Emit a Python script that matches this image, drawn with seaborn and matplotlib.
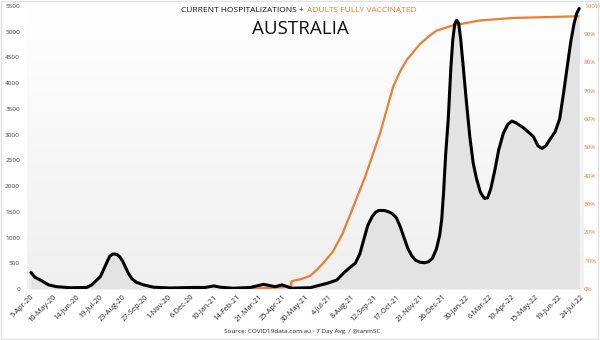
import numpy as np
import pandas as pd
import matplotlib
matplotlib.use("Agg")
import matplotlib.pyplot as plt
import matplotlib.dates as mdates
from matplotlib.patches import Rectangle
from matplotlib.ticker import FuncFormatter
import seaborn as sns

# ---------------- data ----------------
hosp_dates = ["2020-04-06","2020-04-12","2020-04-23","2020-05-03","2020-05-15","2020-06-05","2020-06-30",
              "2020-07-08","2020-07-21","2020-07-26","2020-07-31","2020-08-04","2020-08-08","2020-08-12",
              "2020-08-16","2020-08-20","2020-08-24","2020-08-28","2020-09-02","2020-09-07","2020-09-14",
              "2020-09-25","2020-10-10","2020-11-04","2020-12-10","2020-12-28",
              "2021-01-10","2021-01-20","2021-02-09","2021-03-07","2021-03-27","2021-04-14","2021-04-24",
              "2021-05-09","2021-06-06","2021-07-02","2021-07-17","2021-07-27","2021-08-06","2021-08-14",
              "2021-08-21","2021-08-27","2021-09-02","2021-09-09","2021-09-14","2021-09-19","2021-09-27",
              "2021-10-04","2021-10-10","2021-10-16","2021-10-22","2021-10-28","2021-11-02","2021-11-08",
              "2021-11-14","2021-11-21","2021-11-28","2021-12-04","2021-12-10","2021-12-16","2021-12-21",
              "2021-12-24","2021-12-27","2021-12-30",
              "2022-01-03","2022-01-07","2022-01-10","2022-01-13","2022-01-16","2022-01-19","2022-01-22",
              "2022-01-26","2022-01-31","2022-02-05","2022-02-10","2022-02-15","2022-02-21","2022-02-27",
              "2022-03-04","2022-03-09","2022-03-15","2022-03-21","2022-03-28","2022-04-04","2022-04-10",
              "2022-04-16","2022-04-22","2022-04-28","2022-05-05","2022-05-13","2022-05-20","2022-05-26",
              "2022-06-01","2022-06-07","2022-06-15","2022-06-22","2022-06-28","2022-07-04","2022-07-09",
              "2022-07-14","2022-07-18","2022-07-22"]
hosp_values = [320,230,155,80,45,25,30,
               80,240,380,520,630,675,680,
               665,620,540,430,300,200,130,
               80,35,20,30,30,
               60,35,15,30,90,45,80,
               15,25,110,175,305,420,500,
               680,955,1230,1410,1490,1525,1525,
               1500,1460,1380,1200,980,800,650,
               560,520,510,530,600,780,1050,
               1345,1900,2600,
               3300,4300,4850,5150,5220,5150,4850,
               4300,3600,2950,2450,2150,1880,1760,
               1770,1950,2300,2700,3020,3200,3260,
               3230,3180,3130,3050,2960,2780,2730,
               2780,2900,3050,3300,3800,4350,4800,
               5150,5350,5450]

vax_dates = ["2021-02-22","2021-03-27","2021-04-24","2021-05-08","2021-05-09","2021-05-22","2021-06-06",
             "2021-06-16","2021-06-26","2021-07-11","2021-07-26","2021-08-11","2021-08-29","2021-09-21",
             "2021-10-11","2021-10-22","2021-11-01","2021-11-21","2021-12-06","2021-12-16","2022-01-09",
             "2022-02-20","2022-04-12","2022-07-21"]
vax_pct = [0.0,0.3,0.6,0.9,2.8,3.4,4.6,6.7,9.1,13.2,19.7,29.0,39.5,55.0,71.5,77.0,81.0,86.5,89.5,91.2,93.0,
           94.8,95.7,96.3]

tick_labels = ["5-Apr-20","10-May-20","14-Jun-20","19-Jul-20","23-Aug-20","27-Sep-20","1-Nov-20","6-Dec-20",
               "10-Jan-21","14-Feb-21","21-Mar-21","25-Apr-21","30-May-21","4-Jul-21","8-Aug-21","12-Sep-21",
               "17-Oct-21","21-Nov-21","26-Dec-21","30-Jan-22","6-Mar-22","10-Apr-22","15-May-22","19-Jun-22","24-Jul-22"]
left_ticks = list(range(0, 5501, 500))
right_ticks = list(range(0, 101, 10))

hosp = pd.DataFrame({"date": pd.to_datetime(hosp_dates), "value": hosp_values})
vax = pd.DataFrame({"date": pd.to_datetime(vax_dates), "pct": vax_pct})
tick_dates = pd.to_datetime(tick_labels, format="%d-%b-%y")

ORANGE = "#ED7D31"

sns.set_style("white")
plt.rcParams['font.family'] = ['Open Sans', 'DejaVu Sans']

fig = plt.figure(figsize=(6, 3.4), dpi=100)
ax = fig.add_axes([0.045, 0.150, 0.927, 0.833])
ax2 = ax.twinx()
ax3 = ax.twinx()

xmin, xmax = pd.Timestamp("2020-03-31"), pd.Timestamp("2022-07-28")
for a in (ax, ax2, ax3):
    a.set_xlim(xmin, xmax)
    for s in a.spines.values():
        s.set_visible(False)
ax.set_ylim(0, 5500)
ax3.set_ylim(0, 5500)
ax2.set_ylim(0, 100)

# background gradient
grad = np.linspace(1, 0, 256).reshape(-1, 1)
ax.imshow(grad, extent=[mdates.date2num(xmin), mdates.date2num(xmax), 0, 5500], aspect="auto",
          cmap=matplotlib.colors.LinearSegmentedColormap.from_list("g", ["#efefef", "#ffffff"]),
          vmin=0, vmax=1, zorder=0, origin="upper")
ax.fill_between(hosp["date"], 0, hosp["value"], color="#e3e3e3", lw=0, zorder=1)

sns.lineplot(data=vax, x="date", y="pct", ax=ax2, color=ORANGE, lw=1.6)
sns.lineplot(data=hosp, x="date", y="value", ax=ax3, color="black", lw=2.2)

ax.set_yticks(left_ticks)
ax.tick_params(axis="y", labelsize=4.6, colors="#404040", length=0, pad=5)
ax2.set_yticks(right_ticks)
ax2.yaxis.set_major_formatter(FuncFormatter(lambda v, p: f"{v:.0f}%"))
ax2.tick_params(axis="y", labelsize=4.5, colors=ORANGE, length=0, pad=0.5)
ax3.set_yticks([])
ax3.tick_params(axis="both", length=0)
ax3.set_xticks([])
ax2.set_xticks([])
for a in (ax, ax2, ax3):
    a.set_xlabel("")
    a.set_ylabel("")
for lab in ax2.get_yticklabels() + ax.get_yticklabels():
    lab.set_clip_on(False)

ax.set_xticks(tick_dates)
ax.set_xticklabels(tick_labels, rotation=45, ha="right", rotation_mode="anchor", fontsize=5.3, color="#222222")
ax.tick_params(axis="x", length=0, pad=3)

# titles
W, H = 600, 340
fig.text(304 / W, 1 - 11 / H, "CURRENT HOSPITALIZATIONS +", ha="right", va="center", fontsize=6, color="#111111")
fig.text(307 / W, 1 - 11 / H, "ADULTS FULLY VACCINATED", ha="left", va="center", fontsize=6, color=ORANGE)
fig.text(300 / W, 1 - 29 / H, "AUSTRALIA", ha="center", va="center", fontsize=13.5, color="#111111")
fig.text(302 / W, 1 - 331 / H, "Source: COVID19data.com.au - 7 Day Avg. / @ianmSC", ha="center", va="center",
         fontsize=4.6, color="#222222")

fig.patches.append(Rectangle((0.002, 0.003), 0.995, 0.994, transform=fig.transFigure, fill=False,
                             edgecolor="#e2e2e2", lw=1))

fig.savefig("out.png", dpi=100)
